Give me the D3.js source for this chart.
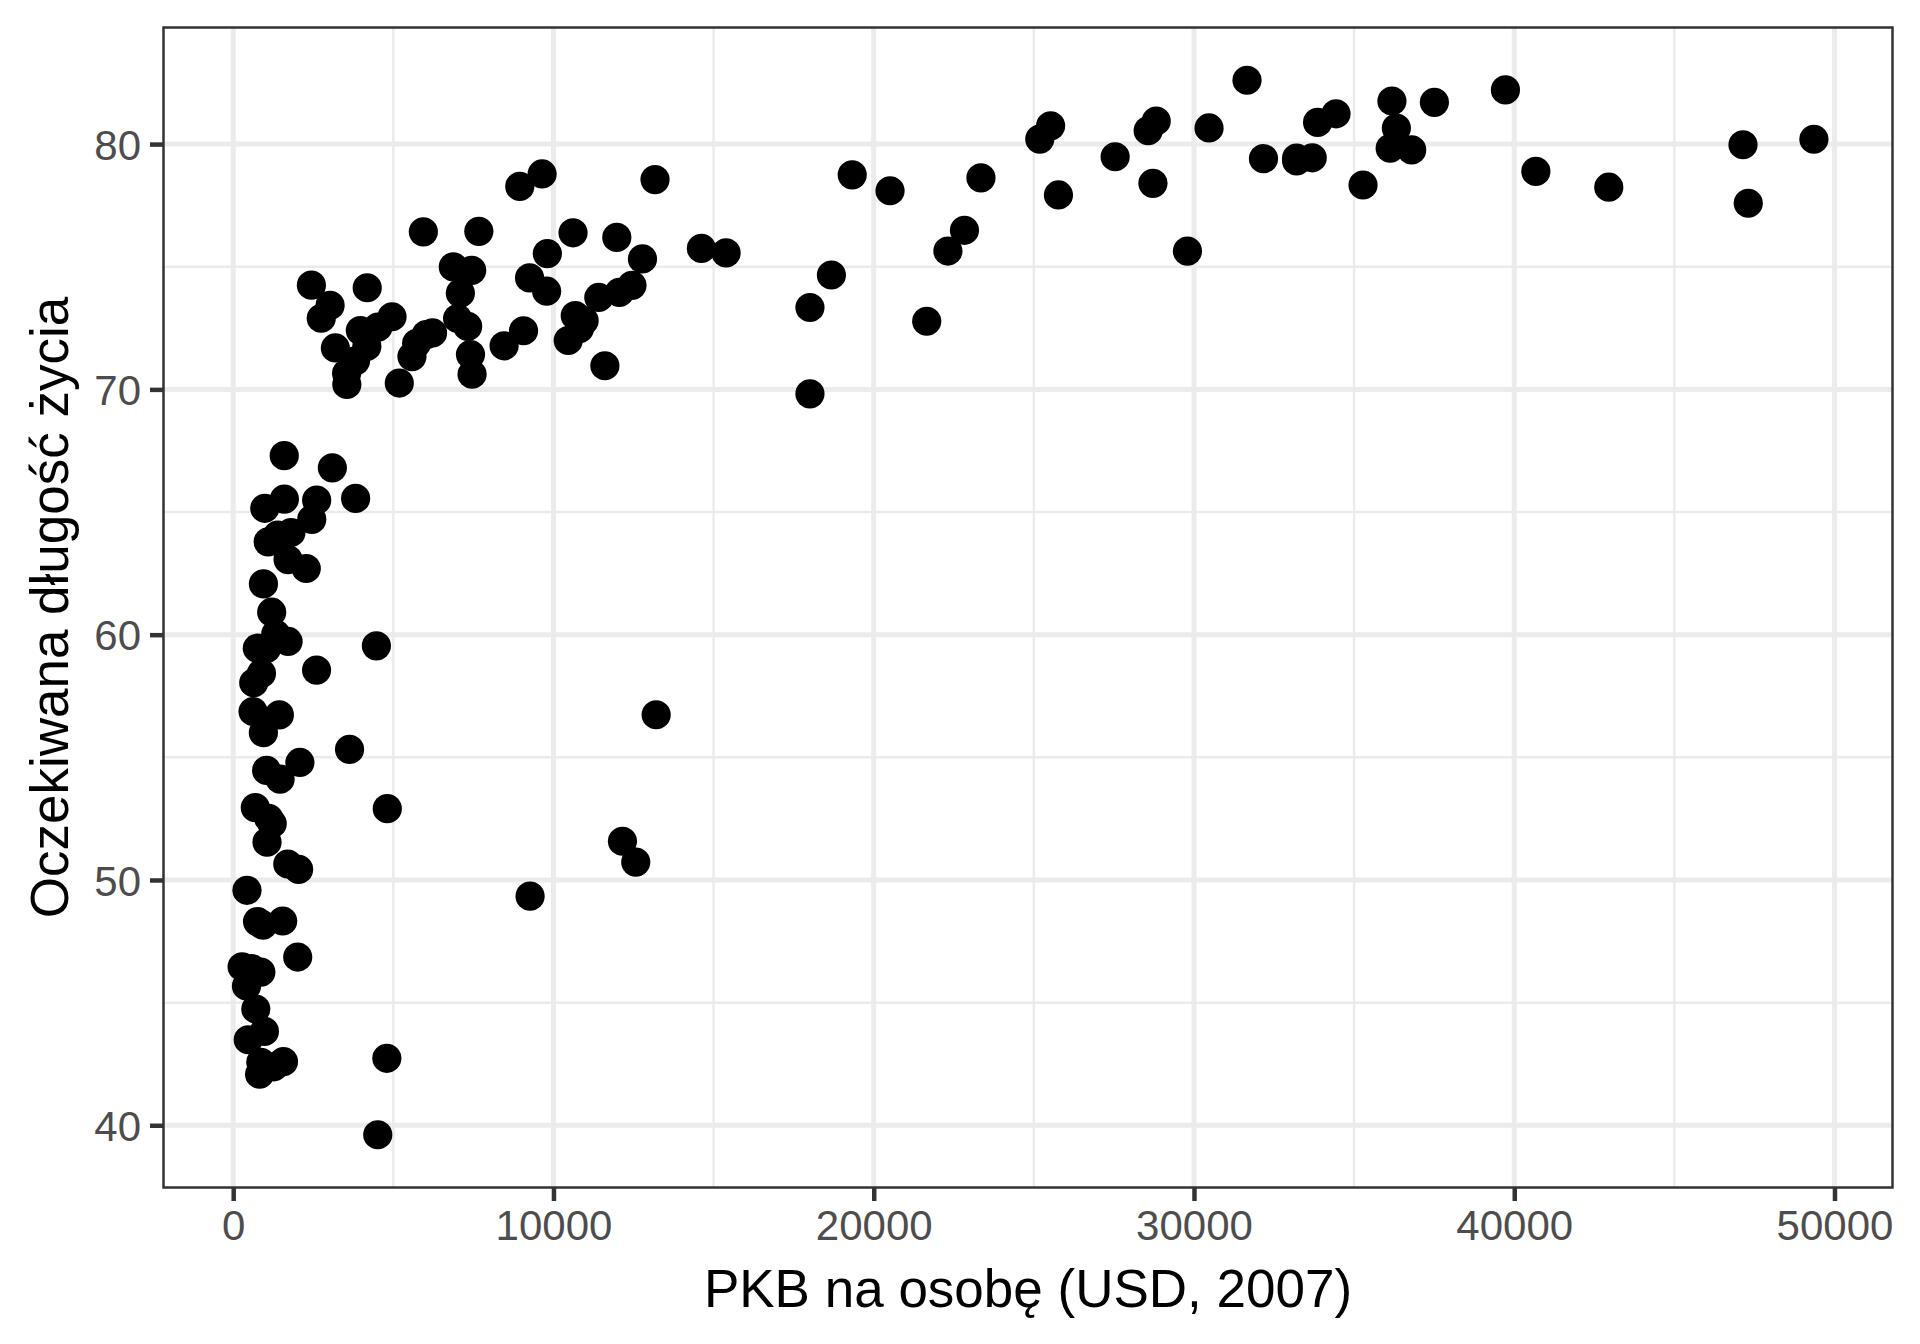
<!DOCTYPE html>
<html>
<head>
<meta charset="utf-8">
<script src="https://cdn.jsdelivr.net/npm/d3@7"></script>
<style>
  body { margin: 0; background: #fff; }
  svg text { font-family: "Liberation Sans", Arial, sans-serif; }
</style>
</head>
<body>
<div id="chart"></div>
<script>
// gapminder 2007: country, GDP per capita, life expectancy
var countries = ['Afghanistan','Albania','Algeria','Angola','Argentina','Australia','Austria','Bahrain','Bangladesh','Belgium',
  'Benin','Bolivia','Bosnia and Herzegovina','Botswana','Brazil','Bulgaria','Burkina Faso','Burundi','Cambodia','Cameroon',
  'Canada','Central African Republic','Chad','Chile','China','Colombia','Comoros','Congo, Dem. Rep.','Congo, Rep.','Costa Rica',
  "Cote d'Ivoire",'Croatia','Cuba','Czech Republic','Denmark','Djibouti','Dominican Republic','Ecuador','Egypt','El Salvador',
  'Equatorial Guinea','Eritrea','Ethiopia','Finland','France','Gabon','Gambia','Germany','Ghana','Greece',
  'Guatemala','Guinea','Guinea-Bissau','Haiti','Honduras','Hong Kong','Hungary','Iceland','India','Indonesia',
  'Iran','Iraq','Ireland','Israel','Italy','Jamaica','Japan','Jordan','Kenya','Korea, Dem. Rep.',
  'Korea, Rep.','Kuwait','Lebanon','Lesotho','Liberia','Libya','Madagascar','Malawi','Malaysia','Mali',
  'Mauritania','Mauritius','Mexico','Mongolia','Montenegro','Morocco','Mozambique','Myanmar','Namibia','Nepal',
  'Netherlands','New Zealand','Nicaragua','Niger','Nigeria','Norway','Oman','Pakistan','Panama','Paraguay',
  'Peru','Philippines','Poland','Portugal','Puerto Rico','Reunion','Romania','Rwanda','Sao Tome and Principe','Saudi Arabia',
  'Senegal','Serbia','Sierra Leone','Singapore','Slovak Republic','Slovenia','Somalia','South Africa','Spain','Sri Lanka',
  'Sudan','Swaziland','Sweden','Switzerland','Syria','Taiwan','Tanzania','Thailand','Togo','Trinidad and Tobago',
  'Tunisia','Turkey','Uganda','United Kingdom','United States','Uruguay','Venezuela','Vietnam','West Bank and Gaza','Yemen',
  'Zambia','Zimbabwe'];

var gdpPercap = [974.58,5937.03,6223.37,4797.23,12779.38,34435.37,36126.49,29796.05,1391.25,33692.61,
  1441.28,3822.14,7446.30,12569.85,9065.80,10680.79,1217.03,430.07,1713.78,2042.10,
  36319.24,706.02,1704.06,13171.64,4959.11,7006.58,986.15,277.55,3632.56,9645.06,
  1544.75,14619.22,8948.10,22833.31,35278.42,2082.48,6025.37,6873.26,5581.18,5728.35,
  12154.09,641.37,690.81,33207.08,30470.02,13206.48,752.75,32170.37,1327.61,27538.41,
  5186.05,942.65,579.23,1201.64,3548.33,39724.98,18008.94,36180.79,2452.21,3540.65,
  11605.71,4471.06,40675.00,25523.28,28569.72,7320.88,31656.07,4519.46,1463.25,1593.07,
  23348.14,47306.99,10461.06,1569.33,414.51,12057.50,1044.77,759.35,12451.66,1042.58,
  1803.15,10956.99,11977.57,3095.77,9253.90,3820.18,823.69,944.00,4811.06,1091.36,
  36797.93,25185.01,2749.32,619.68,2013.98,49357.19,22316.19,2605.95,9809.19,4172.84,
  7408.91,3190.48,15389.92,20509.65,19328.71,7670.12,10808.48,863.09,1598.44,21654.83,
  1712.47,9786.53,862.54,47143.18,18678.31,25768.26,926.14,9269.66,28821.06,3970.10,
  2602.39,4513.48,33859.75,37506.42,4184.55,28718.28,1107.48,7458.40,882.97,18008.51,
  7092.92,8458.28,1056.38,33203.26,42951.65,10611.46,11415.81,2441.58,3025.35,2280.77,
  1271.21,469.71];

var lifeExp = [43.828,76.423,72.301,42.731,75.320,81.235,79.829,75.635,64.062,79.441,
  56.728,65.554,74.852,50.728,72.390,73.005,52.295,49.580,59.723,50.430,
  80.653,44.741,50.651,78.553,72.961,72.889,65.152,46.462,55.322,78.782,
  48.328,75.748,78.273,76.486,78.332,54.791,72.235,74.994,71.338,71.878,
  51.579,58.040,52.947,79.313,80.657,56.735,59.448,79.406,60.022,79.483,
  70.259,56.007,46.388,60.916,70.198,82.208,73.338,81.757,64.698,70.650,
  70.964,59.545,78.885,80.745,80.546,72.567,82.603,72.535,54.110,67.297,
  78.623,77.588,71.993,42.592,45.678,73.952,59.443,48.303,74.241,54.467,
  64.164,72.801,76.195,66.803,74.543,71.164,42.082,62.069,52.906,63.785,
  79.762,80.204,72.899,56.867,46.859,80.196,75.640,65.483,75.537,71.752,
  71.421,71.688,75.563,78.098,78.746,76.442,72.476,46.242,65.528,72.777,
  63.062,74.002,42.568,79.972,74.663,77.926,48.159,49.339,80.941,72.396,
  58.556,39.613,80.884,81.701,74.143,78.400,52.517,70.616,58.420,69.819,
  73.923,71.777,51.542,79.425,78.242,76.384,73.747,74.249,73.422,62.698,
  42.384,43.487];

var xTicks = [0, 10000, 20000, 30000, 40000, 50000];
var xMinor = [5000, 15000, 25000, 35000, 45000];
var yTicks = [40, 50, 60, 70, 80];
var yMinor = [45, 55, 65, 75];

var xTitle = 'PKB na osobę (USD, 2007)';
var yTitle = 'Oczekiwana długość życia';

var width = 1920, height = 1344;
var panel = { left: 163.5, right: 1892.5, top: 27.5, bottom: 1187.5 };

var data = countries.map(function(c, i) {
    return { name: c, gdp: gdpPercap[i], life: lifeExp[i] };
});

// ggplot style 5% expansion
function expand(ext) {
    var pad = (ext[1] - ext[0]) * 0.05;
    return [ext[0] - pad, ext[1] + pad];
}

var x = d3.scaleLinear()
    .domain(expand(d3.extent(gdpPercap)))
    .range([panel.left, panel.right]);

var y = d3.scaleLinear()
    .domain(expand(d3.extent(lifeExp)))
    .range([panel.bottom, panel.top]);

var svg = d3.select('#chart')
    .append('svg')
    .attr('width', width)
    .attr('height', height);

svg.append('rect')
    .attr('width', width).attr('height', height)
    .attr('fill', '#fff');

var grid = svg.append('g');

// minor grid
grid.selectAll('.xminor').data(xMinor).enter().append('line')
    .attr('x1', function(d) { return x(d); }).attr('x2', function(d) { return x(d); })
    .attr('y1', panel.top).attr('y2', panel.bottom)
    .attr('stroke', '#EBEBEB').attr('stroke-width', 2.5);
grid.selectAll('.yminor').data(yMinor).enter().append('line')
    .attr('y1', function(d) { return y(d); }).attr('y2', function(d) { return y(d); })
    .attr('x1', panel.left).attr('x2', panel.right)
    .attr('stroke', '#EBEBEB').attr('stroke-width', 2.5);

// major grid
grid.selectAll('.xmajor').data(xTicks).enter().append('line')
    .attr('x1', function(d) { return x(d); }).attr('x2', function(d) { return x(d); })
    .attr('y1', panel.top).attr('y2', panel.bottom)
    .attr('stroke', '#EBEBEB').attr('stroke-width', 5);
grid.selectAll('.ymajor').data(yTicks).enter().append('line')
    .attr('y1', function(d) { return y(d); }).attr('y2', function(d) { return y(d); })
    .attr('x1', panel.left).attr('x2', panel.right)
    .attr('stroke', '#EBEBEB').attr('stroke-width', 5);

// points
svg.append('g')
    .selectAll('circle')
    .data(data)
    .enter()
    .append('circle')
    .attr('cx', function(d) { return x(d.gdp); })
    .attr('cy', function(d) { return y(d.life); })
    .attr('r', 14.6)
    .attr('fill', '#000');

// panel border
svg.append('rect')
    .attr('x', panel.left).attr('y', panel.top)
    .attr('width', panel.right - panel.left)
    .attr('height', panel.bottom - panel.top)
    .attr('fill', 'none')
    .attr('stroke', '#333333')
    .attr('stroke-width', 2.5);

// axes
var xAxis = d3.axisBottom(x).tickValues(xTicks).tickSize(13.5).tickPadding(9).tickFormat(d3.format('d'));
var yAxis = d3.axisLeft(y).tickValues(yTicks).tickSize(13.5).tickPadding(9).tickFormat(d3.format('d'));

var gx = svg.append('g')
    .attr('transform', 'translate(0,' + panel.bottom + ')')
    .call(xAxis);
var gy = svg.append('g')
    .attr('transform', 'translate(' + panel.left + ',0)')
    .call(yAxis);

[gx, gy].forEach(function(g) {
    g.select('.domain').remove();
    g.selectAll('.tick line').attr('stroke', '#333333').attr('stroke-width', 4.5);
    g.selectAll('.tick text')
        .attr('fill', '#4D4D4D')
        .style('font-size', '42px')
        .style('font-family', '"Liberation Sans", Arial, sans-serif');
});
gx.selectAll('.tick text').attr('dy', '0.72em');
gy.selectAll('.tick text').attr('dy', '0.36em');

// titles
svg.append('text')
    .attr('x', (panel.left + panel.right) / 2)
    .attr('y', 1307)
    .attr('text-anchor', 'middle')
    .attr('fill', '#000')
    .style('font-size', '53px')
    .text(xTitle);

svg.append('text')
    .attr('transform', 'translate(68,' + (panel.top + panel.bottom) / 2 + ') rotate(-90)')
    .attr('text-anchor', 'middle')
    .attr('fill', '#000')
    .style('font-size', '53px')
    .text(yTitle);
</script>
</body>
</html>
